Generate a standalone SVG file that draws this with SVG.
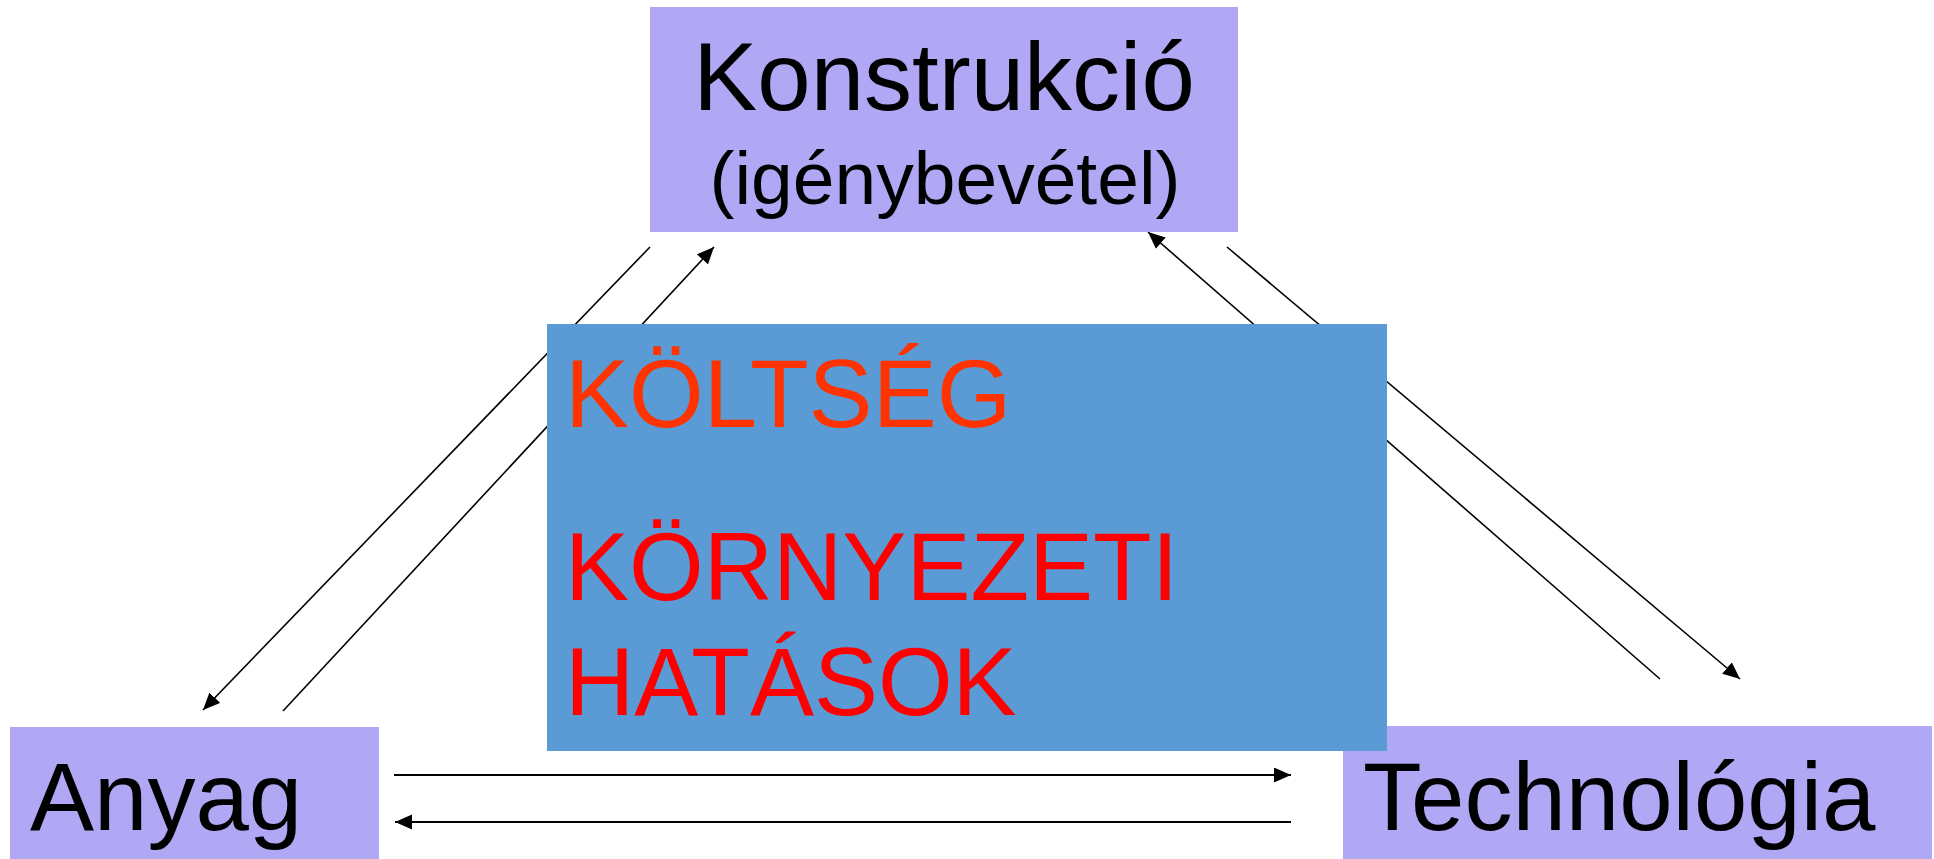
<svg xmlns="http://www.w3.org/2000/svg" width="1934" height="859" viewBox="0 0 1934 859">
  <defs>
    <marker id="arrow" markerUnits="userSpaceOnUse" markerWidth="18" markerHeight="16" refX="17" refY="7.5" orient="auto">
      <path d="M0,0 L17,7.5 L0,15 z" fill="#000"/>
    </marker>
  </defs>
  <style>
    .node { fill: #B0A8F4; }
    .center { fill: #5B9BD5; }
    .lbl { font-family: "Liberation Sans", Arial, sans-serif; fill: #000; }
    .red { font-family: "Liberation Sans", Arial, sans-serif; font-size: 96px; }
    .link { stroke: #000; stroke-width: 1.6; fill: none; }
    .link-h { stroke: #000; stroke-width: 2; fill: none; }
  </style>
  <rect width="1934" height="859" fill="#fff"/>

  <g id="connectors">
    <!-- Konstrukció <-> Anyag -->
    <line class="link" x1="650" y1="247" x2="203" y2="710" marker-end="url(#arrow)"/>
    <line class="link" x1="283" y1="711" x2="714" y2="247" marker-end="url(#arrow)"/>
    <!-- Konstrukció <-> Technológia -->
    <line class="link" x1="1660" y1="679" x2="1148" y2="232" marker-end="url(#arrow)"/>
    <line class="link" x1="1227" y1="247" x2="1740" y2="679" marker-end="url(#arrow)"/>
    <!-- Anyag <-> Technológia -->
    <line class="link-h" x1="394" y1="775" x2="1291" y2="775" marker-end="url(#arrow)"/>
    <line class="link-h" x1="1291" y1="822" x2="395" y2="822" marker-end="url(#arrow)"/>
  </g>

  <g id="konstrukcio">
    <rect class="node" x="650" y="7" width="588" height="225"/>
    <text class="lbl" x="944" y="110" font-size="96" text-anchor="middle">Konstrukció</text>
    <text class="lbl" x="945" y="204" font-size="75" text-anchor="middle">(igénybevétel)</text>
  </g>

  <g id="anyag">
    <rect class="node" x="10" y="727" width="369" height="132"/>
    <text class="lbl" x="30" y="830" font-size="96">Anyag</text>
  </g>

  <g id="technologia">
    <rect class="node" x="1343" y="726" width="589" height="133"/>
    <text class="lbl" x="1363" y="830" font-size="96">Technológia</text>
  </g>

  <g id="hatasok">
    <rect class="center" x="547" y="324" width="840" height="427"/>
    <text class="red" x="565" y="427" fill="#FF3300">KÖLTSÉG</text>
    <text class="red" x="565" y="600" fill="#FF0000">KÖRNYEZETI</text>
    <text class="red" x="565" y="715" fill="#FF0000">HATÁSOK</text>
  </g>
</svg>
